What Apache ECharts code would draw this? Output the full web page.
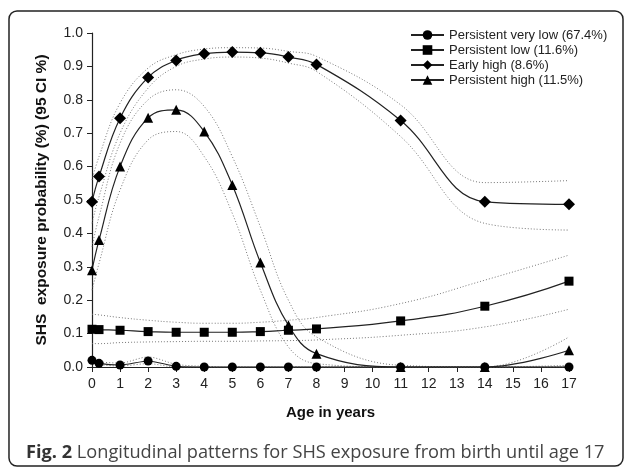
<!DOCTYPE html>
<html>
<head>
<meta charset="utf-8">
<script src="https://cdn.jsdelivr.net/npm/echarts@6/dist/echarts.min.js"></script>
<style>
  html, body { margin: 0; padding: 0; background: #fff; }
  #chart { width: 630px; height: 467px; }
</style>
</head>
<body>
<div id="chart"></div>
<script>
// ages at which the trajectories were estimated
const ages = [0, 0.25, 1, 2, 3, 4, 5, 6, 7, 8, 11, 14, 17];

// estimated probabilities per group
const veryLow = [0.02, 0.011, 0.006, 0.018, 0.002, 0, 0, 0, 0, 0, 0, 0, 0];
const low = [0.113, 0.112, 0.11, 0.106, 0.104, 0.104, 0.104, 0.106, 0.11, 0.114, 0.138, 0.182, 0.257];
const earlyHigh = [0.495, 0.57, 0.745, 0.867, 0.918, 0.938, 0.943, 0.941, 0.928, 0.906, 0.738, 0.495, 0.487];
const persistentHigh = [0.29, 0.38, 0.6, 0.746, 0.77, 0.705, 0.545, 0.313, 0.125, 0.04, 0.0, 0.0, 0.05];

// 95% CI bounds
const veryLowUp = [0.026, 0.016, 0.012, 0.03, 0.008, 0.002, 0, 0, 0, 0, 0, 0, 0.002];
const veryLowLo = [0.014, 0.007, 0.003, 0.01, 0, 0, 0, 0, 0, 0, 0, 0, 0];
const lowUp = [0.158, 0.156, 0.148, 0.14, 0.134, 0.131, 0.131, 0.134, 0.14, 0.148, 0.19, 0.26, 0.335];
const lowLo = [0.07, 0.07, 0.073, 0.075, 0.076, 0.077, 0.077, 0.078, 0.079, 0.081, 0.095, 0.12, 0.173];
const earlyHighUp = [0.56, 0.63, 0.79, 0.895, 0.935, 0.952, 0.956, 0.955, 0.945, 0.93, 0.785, 0.552, 0.558];
const earlyHighLo = [0.43, 0.51, 0.7, 0.835, 0.9, 0.922, 0.928, 0.925, 0.91, 0.885, 0.69, 0.43, 0.41];
const persistentHighUp = [0.36, 0.45, 0.67, 0.8, 0.83, 0.78, 0.63, 0.42, 0.2, 0.09, 0.005, 0.0, 0.09];
const persistentHighLo = [0.23, 0.31, 0.53, 0.68, 0.705, 0.63, 0.46, 0.23, 0.06, 0.01, 0, 0, 0.005];

const groupNames = ["Persistent very low (67.4%)", "Persistent low (11.6%)", "Early high (8.6%)", "Persistent high (11.5%)"];

const pair = (ys) => ages.map((a, i) => [a, ys[i]]);

const chart = echarts.init(document.getElementById("chart"));

const mainLine = (name, ys, symbol, size, smooth) => ({
  name: name,
  type: "line",
  data: pair(ys),
  symbol: symbol,
  symbolSize: size,
  smooth: smooth,
  z: 5,
  itemStyle: { color: "#000" },
  lineStyle: { color: "#222", width: 1.2 },
});

const ciLine = (ys, smooth) => ({
  type: "line",
  data: pair(ys),
  showSymbol: false,
  smooth: smooth,
  z: 2,
  silent: true,
  lineStyle: { color: "#777", width: 1, type: [1, 2] },
});

const option = {
  animation: false,
  grid: { left: 92, right: 61, top: 33, bottom: 100 },
  legend: {
    orient: "vertical",
    left: 405,
    top: 23,
    itemWidth: 33,
    itemHeight: 12,
    itemGap: 1,
    data: groupNames,
    textStyle: { color: "#222", fontSize: 13, fontFamily: "Liberation Sans", lineHeight: 14 },
  },
  xAxis: {
    type: "value",
    min: 0,
    max: 17,
    interval: 1,
    name: "Age in years",
    nameLocation: "middle",
    nameGap: 38,
    nameTextStyle: { color: "#111", fontSize: 15, fontWeight: "bold", fontFamily: "Liberation Sans" },
    splitLine: { show: false },
    axisLine: { lineStyle: { color: "#222", width: 1.2 } },
    axisTick: { lineStyle: { color: "#222" }, length: 5 },
    axisLabel: { color: "#222", fontSize: 14, fontFamily: "Liberation Sans", margin: 10 },
  },
  yAxis: {
    type: "value",
    min: 0,
    max: 1,
    interval: 0.1,
    name: "SHS  exposure probability (%) (95 CI %)",
    nameLocation: "middle",
    nameGap: 42,
    nameTextStyle: { color: "#111", fontSize: 15.5, fontWeight: "bold", fontFamily: "Liberation Sans" },
    splitLine: { show: false },
    axisLine: { show: true, lineStyle: { color: "#222", width: 1.2 } },
    axisTick: { show: true, lineStyle: { color: "#222" }, length: 5 },
    axisLabel: {
      color: "#222",
      fontSize: 14,
      fontFamily: "Liberation Sans",
      margin: 9,
      formatter: (v) => v.toFixed(1),
    },
  },
  series: [
    ciLine(veryLowUp, 0.3),
    ciLine(veryLowLo, 0.3),
    ciLine(lowUp, true),
    ciLine(lowLo, true),
    ciLine(earlyHighUp, 0.4),
    ciLine(earlyHighLo, 0.4),
    ciLine(persistentHighUp, 0.4),
    ciLine(persistentHighLo, 0.4),
    mainLine(groupNames[0], veryLow, "circle", 9, 0.2),
    mainLine(groupNames[1], low, "rect", 9, true),
    mainLine(groupNames[2], earlyHigh, "diamond", 12, 0.4),
    mainLine(groupNames[3], persistentHigh, "triangle", 10, 0.4),
  ],
  graphic: [
    {
      type: "rect",
      shape: { x: 9, y: 11, width: 614, height: 455, r: 8 },
      style: { fill: "none", stroke: "#222", lineWidth: 1.5 },
      silent: true,
    },
    {
      type: "text",
      left: 26,
      top: 444,
      style: {
        text: "{b|Fig. 2} Longitudinal patterns for SHS exposure from birth until age 17",
        fill: "#444",
        font: "18.2px 'Open Sans'",
        rich: {
          b: { fontWeight: "bold", fontSize: 18.2, fontFamily: "Open Sans", fill: "#333" },
        },
      },
    },
  ],
};

chart.setOption(option);
</script>
</body>
</html>
